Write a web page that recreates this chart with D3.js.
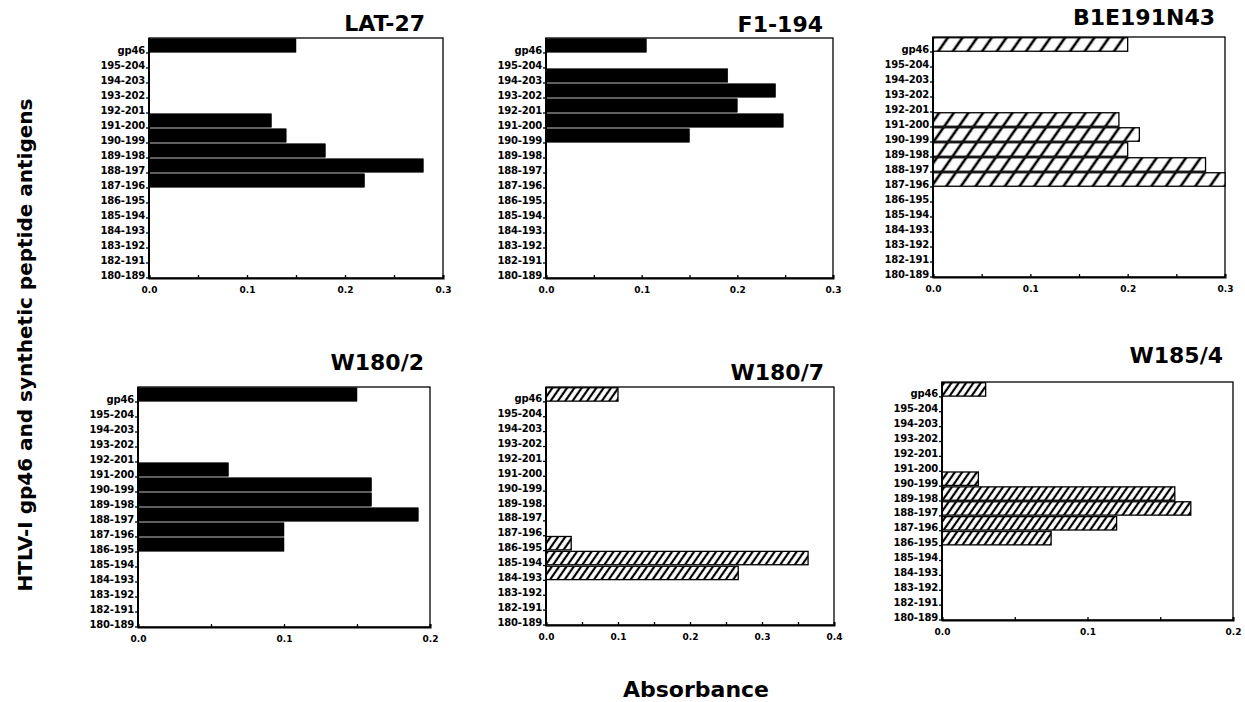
<!DOCTYPE html>
<html>
<head>
<meta charset="utf-8">
<script src="https://cdn.jsdelivr.net/npm/d3@7"></script>
<style>
  body { margin: 0; background: #fff; }
  svg text { font-family: "DejaVu Sans", sans-serif; font-weight: bold; fill: #000; }
</style>
</head>
<body>
<div id="chart"></div>
<script>
var width = 1245, height = 702;

// peptide antigens, top to bottom
var categories = ["gp46", "195-204", "194-203", "193-202", "192-201", "191-200", "190-199",
                  "189-198", "188-197", "187-196", "186-195", "185-194", "184-193",
                  "183-192", "182-191", "180-189"];

// absorbance per antigen for each serum
var lat27    = [0.15, 0, 0, 0, 0, 0.125, 0.14, 0.18, 0.28, 0.22, 0, 0, 0, 0, 0, 0];
var f1_194   = [0.105, 0, 0.19, 0.24, 0.2, 0.248, 0.15, 0, 0, 0, 0, 0, 0, 0, 0, 0];
var b1e191   = [0.2, 0, 0, 0, 0, 0.191, 0.212, 0.2, 0.28, 0.3, 0, 0, 0, 0, 0, 0];
var w180_2   = [0.15, 0, 0, 0, 0, 0.062, 0.16, 0.16, 0.192, 0.1, 0.1, 0, 0, 0, 0, 0];
var w180_7   = [0.1, 0, 0, 0, 0, 0, 0, 0, 0, 0, 0.035, 0.364, 0.267, 0, 0, 0];
var w185_4   = [0.03, 0, 0, 0, 0, 0, 0.025, 0.16, 0.171, 0.12, 0.075, 0, 0, 0, 0, 0];

var titles = ["LAT-27", "F1-194", "B1E191N43", "W180/2", "W180/7", "W185/4"];
var series = [lat27, f1_194, b1e191, w180_2, w180_7, w185_4];
var xMaxes = [0.3, 0.3, 0.3, 0.2, 0.4, 0.2];
var fills  = ["solid", "solid", "hatchWide", "solid", "hatchDense", "hatchDense"];

// panel frames: left, right, top, bottom; title anchor (right x, baseline y)
var frames = [
  {l: 149, r: 443, t: 38, b: 278, tx: 425, ty: 31},
  {l: 546, r: 833, t: 38, b: 278, tx: 823, ty: 32},
  {l: 933, r: 1225, t: 37, b: 277, tx: 1215, ty: 25},
  {l: 138, r: 430, t: 387, b: 627, tx: 424, ty: 370},
  {l: 546, r: 834, t: 387, b: 625, tx: 824, ty: 380},
  {l: 942, r: 1233, t: 382, b: 620, tx: 1223, ty: 363}
];

var svg = d3.select("#chart")
            .append("svg")
            .attr("width", width)
            .attr("height", height);

// hatch patterns
var defs = svg.append("defs");
function hatch(id, spacing, sw) {
  var p = defs.append("pattern")
      .attr("id", id)
      .attr("patternUnits", "userSpaceOnUse")
      .attr("width", spacing)
      .attr("height", spacing)
      .attr("patternTransform", "rotate(35)");
  p.append("rect").attr("width", spacing).attr("height", spacing).attr("fill", "#fff");
  p.append("line")
      .attr("x1", spacing / 2).attr("x2", spacing / 2)
      .attr("y1", 0).attr("y2", spacing)
      .attr("stroke", "#000").attr("stroke-width", sw);
}
hatch("hatchWide", 12, 2.6);
hatch("hatchDense", 6, 2.2);

titles.forEach(function(title, i) {
  var f = frames[i];
  var g = svg.append("g");

  var x = d3.scaleLinear().domain([0, xMaxes[i]]).range([f.l, f.r]);
  var y = d3.scaleBand().domain(categories).range([f.t, f.b])
            .paddingInner(0.1).paddingOuter(0.05);
  var step = y.step();

  // frame
  g.append("rect")
   .attr("x", f.l).attr("y", f.t)
   .attr("width", f.r - f.l).attr("height", f.b - f.t)
   .attr("fill", "none").attr("stroke", "#000").attr("stroke-width", 1.3);

  // bars
  var vals = series[i];
  g.selectAll(".bar")
   .data(categories.map(function(c, k) { return {c: c, v: vals[k]}; })
                   .filter(function(d) { return d.v > 0; }))
   .enter()
   .append("rect")
   .attr("class", "bar")
   .attr("x", x(0))
   .attr("y", function(d) { return y(d.c); })
   .attr("width", function(d) { return x(d.v) - x(0); })
   .attr("height", y.bandwidth())
   .attr("fill", fills[i] == "solid" ? "#000" : "url(#" + fills[i] + ")")
   .attr("stroke", "#000")
   .attr("stroke-width", fills[i] == "solid" ? 0.5 : 1.3);

  // y axis: ticks at band bottoms, labels just above them
  var yBottom = function(c) { return y(c) - y.paddingInner() * step / 2 + step; };
  g.selectAll(".ytick")
   .data(categories).enter()
   .append("line")
   .attr("x1", f.l - 3).attr("x2", f.l)
   .attr("y1", yBottom).attr("y2", yBottom)
   .attr("stroke", "#000").attr("stroke-width", 1.3);
  g.selectAll(".ylab")
   .data(categories).enter()
   .append("text")
   .attr("x", f.l - 4)
   .attr("y", function(c) { return yBottom(c) + 0.5; })
   .attr("text-anchor", "end")
   .style("font-size", "10px")
   .style("letter-spacing", "-0.2px")
   .text(function(c) { return c; });

  // x axis
  var xAxis = d3.axisBottom(x)
                .tickValues(d3.range(0, xMaxes[i] + 1e-9, 0.05))
                .tickSize(-3)
                .tickFormat(function(d) {
                  return Math.abs(d * 10 - Math.round(d * 10)) < 1e-6 ? d3.format(".1f")(d) : "";
                });
  var ax = g.append("g").attr("transform", "translate(0," + f.b + ")").call(xAxis);
  ax.select(".domain").attr("stroke-width", 2);
  ax.selectAll(".tick line").attr("stroke-width", 1.3);
  ax.selectAll(".tick text")
    .attr("y", 9)
    .attr("dy", "0.71em")
    .style("font-size", "9px")
    .style("font-family", "'DejaVu Sans', sans-serif")
    .style("font-weight", "bold");

  // heavier left axis
  g.append("line")
   .attr("x1", f.l).attr("x2", f.l)
   .attr("y1", f.t).attr("y2", f.b)
   .attr("stroke", "#000").attr("stroke-width", 2);

  // panel title
  g.append("text")
   .attr("x", f.tx).attr("y", f.ty)
   .attr("text-anchor", "end")
   .style("font-size", "22px")
   .text(title);
});

// shared axis titles
svg.append("text")
   .attr("transform", "translate(32,345) rotate(-90)")
   .attr("text-anchor", "middle")
   .style("font-size", "20px")
   .text("HTLV-I gp46 and synthetic peptide antigens");

svg.append("text")
   .attr("x", 696).attr("y", 697)
   .attr("text-anchor", "middle")
   .style("font-size", "22px")
   .text("Absorbance");
</script>
</body>
</html>
